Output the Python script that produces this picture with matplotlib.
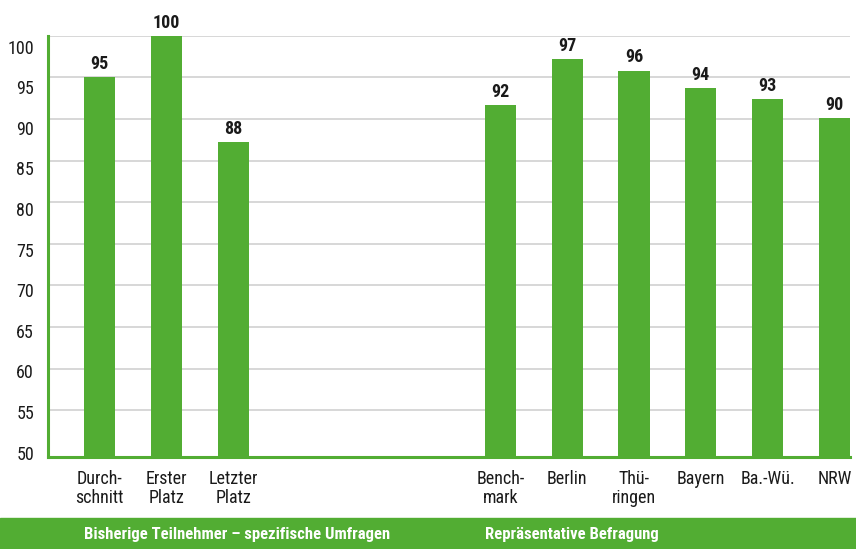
import matplotlib
matplotlib.use("Agg")
import matplotlib.pyplot as plt
from matplotlib import font_manager
from matplotlib.patches import Rectangle
from matplotlib.transforms import blended_transform_factory

# ---- data ----
categories = ["Durch-\nschnitt", "Erster\nPlatz", "Letzter\nPlatz",
              "Bench-\nmark", "Berlin", "Thü-\nringen", "Bayern", "Ba.-Wü.", "NRW"]
slots = [0, 1, 2, 6, 7, 8, 9, 10, 11]
values = [95.0, 100.0, 87.2, 91.7, 97.2, 95.8, 93.7, 92.4, 90.1]
value_labels = ["95", "100", "88", "92", "97", "96", "94", "93", "90"]
yticks = [50, 55, 60, 65, 70, 75, 80, 85, 90, 95, 100]
group_labels = ["Bisherige Teilnehmer – spezifische Umfragen", "Repräsentative Befragung"]
group_start_slot = [0, 6]

GREEN = "#52ad33"
TEXT = "#1a1a1a"

avail = {f.name for f in font_manager.fontManager.ttflist}
fam = [f for f in ["Liberation Sans Narrow", "Roboto Condensed", "Open Sans Condensed"] if f in avail]
plt.rcParams["font.family"] = fam + ["Liberation Sans", "DejaVu Sans"]

fig = plt.figure(figsize=(8.56, 5.49), dpi=100)
ax = fig.add_axes([48/856, 1-457.3/549, (850-48)/856, (457.3-35.7)/549])

width = 0.465
ax.bar(slots, values, width=width, color=GREEN, zorder=3)
for s, v, lab in zip(slots, values, value_labels):
    ax.annotate(lab, (s, v), xytext=(0, 3), textcoords="offset points",
                ha="center", va="bottom", fontsize=13, fontweight="bold", color=TEXT)

ax.set_xlim(-0.771, 11 + width/2)
ax.set_ylim(49.35, 100)
# gridlines (no line at 50, the axis sits just below it)
ax.set_yticks(yticks[1:])
ax.set_yticklabels([])
ax.set_xticks(slots)
ax.set_xticklabels(categories, fontsize=13, color=TEXT, linespacing=1.1)
ax.tick_params(axis="both", length=0)
ax.tick_params(axis="x", pad=9)
ax.grid(axis="y", color="#d4d4d4", linewidth=1.3, zorder=0)
for side in ["top", "right"]:
    ax.spines[side].set_visible(False)
for side in ["left", "bottom"]:
    ax.spines[side].set_color(GREEN)
    ax.spines[side].set_linewidth(2.2)
    ax.spines[side].set_zorder(4)

# tick labels on their own (slightly offset) scale, as in the original
ax2 = ax.twinx()
ax2.set_ylim(49.43, 101.355)
ax2.yaxis.tick_left()
ax2.set_yticks(yticks)
ax2.set_yticklabels([str(t) for t in yticks], fontsize=13, color=TEXT)
ax2.tick_params(axis="y", length=0, pad=10)
for sp in ax2.spines.values():
    sp.set_visible(False)

# bottom band
fig.patches.append(Rectangle((0, 0), 1, (549-517.7)/549, transform=fig.transFigure,
                             color=GREEN, zorder=0))
tr = blended_transform_factory(ax.transData, fig.transFigure)
for s, lab in zip(group_start_slot, group_labels):
    fig.text(s - width/2, (549-535)/549, lab, transform=tr, ha="left", va="center",
             fontsize=12, fontweight="bold", color="white")

fig.savefig("out.png", dpi=100)
